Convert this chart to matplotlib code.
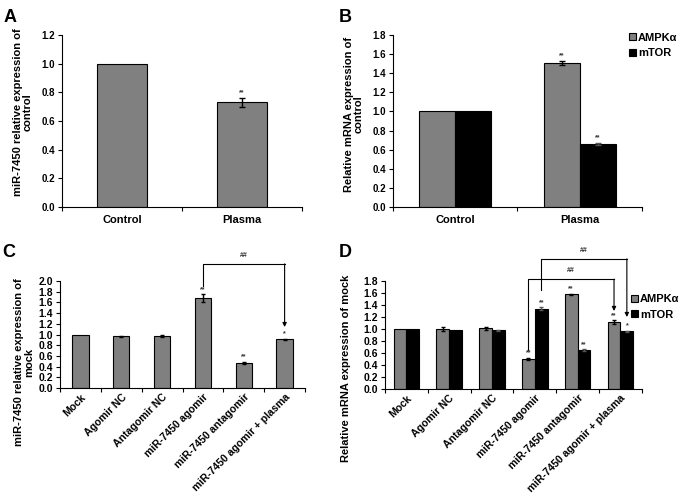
import matplotlib
matplotlib.use("Agg")
import matplotlib.pyplot as plt
import numpy as np

plt.rcParams['font.family'] = ['Liberation Sans', 'DejaVu Sans']
plt.rcParams['font.weight'] = 'bold'

GRAY = '#808080'

# Panel A
a_cats = ["Control", "Plasma"]
a_vals = [1.0, 0.73]
a_err = [0, 0.03]
a_sig = ["", "**"]

# Panel B
b_cats = ["Control", "Plasma"]
b_ampk = [1.0, 1.51]
b_ampk_err = [0, 0.02]
b_mtor = [1.0, 0.66]
b_mtor_err = [0, 0.01]
b_ampk_sig = ["", "**"]
b_mtor_sig = ["", "**"]

# Panel C
c_cats = ["Mock", "Agomir NC", "Antagomir NC", "miR-7450 agomir",
          "miR-7450 antagomir", "miR-7450 agomir + plasma"]
c_vals = [1.0, 0.97, 0.97, 1.68, 0.47, 0.91]
c_err = [0, 0.01, 0.015, 0.07, 0.02, 0.015]
c_sig = ["", "", "", "**", "**", "*"]

# Panel D
d_cats = c_cats
d_ampk = [1.0, 1.0, 1.01, 0.5, 1.58, 1.12]
d_ampk_err = [0, 0.04, 0.03, 0.02, 0.01, 0.03]
d_mtor = [1.0, 0.98, 0.98, 1.34, 0.65, 0.96]
d_mtor_err = [0, 0, 0.01, 0.02, 0.01, 0.01]
d_ampk_sig = ["", "", "", "**", "**", "**"]
d_mtor_sig = ["", "", "", "**", "**", "*"]


def style_axes(ax, n, cats, ymax, rot=False, tsize=7):
    ax.spines['top'].set_visible(False)
    ax.spines['right'].set_visible(False)
    ax.set_xlim(-0.5, n - 0.5)
    ax.set_ylim(0, ymax)
    ax.set_yticks(np.arange(0, ymax + 0.001, 0.2))
    ax.set_yticklabels(["%.1f" % v for v in np.arange(0, ymax + 0.001, 0.2)],
                       fontsize=tsize, fontweight='bold')
    ax.set_xticks(np.arange(-0.5, n, 1.0))
    ax.set_xticklabels([])
    ax.tick_params(axis='x', which='major', length=3, direction='out')
    ax.tick_params(axis='y', length=3, direction='out', pad=2)
    ax.set_xticks(np.arange(n), minor=True)
    if rot:
        ax.set_xticklabels(cats, minor=True, rotation=45, ha='right',
                           rotation_mode='anchor', fontsize=7.6, fontweight='bold')
        ax.tick_params(axis='x', which='minor', length=0, pad=3)
    else:
        ax.set_xticklabels(cats, minor=True, fontsize=8, fontweight='bold')
        ax.tick_params(axis='x', which='minor', length=0, pad=6)


def errs(ax, xs, vals, err, color, cap):
    xs = np.asarray(xs, dtype=float)
    vals = np.asarray(vals)
    err = np.asarray(err)
    m = err > 0
    ax.errorbar(xs[m], vals[m], yerr=err[m], fmt='none', ecolor=color,
                elinewidth=1, capsize=cap)


def stars(ax, xs, tops, sig, dy):
    for x, t, s in zip(xs, tops, sig):
        if s:
            ax.text(x, t + dy, s, ha='center', va='bottom', fontsize=5, color='#333333')


def bracket(ax, x1, x2, y_left, y_top, y_right):
    ax.plot([x1, x1, x2], [y_left, y_top, y_top], color='black', lw=0.8, clip_on=False)
    ax.annotate('', xy=(x2, y_right), xytext=(x2, y_top),
                arrowprops=dict(arrowstyle='-|>', color='black', lw=0.8,
                                mutation_scale=6, shrinkA=0, shrinkB=0),
                annotation_clip=False)


fig = plt.figure(figsize=(6.85, 4.96), dpi=100)

# ---- A ----
ax = fig.add_axes([0.0905, 0.5827, 0.3505, 0.3467])
x = np.arange(len(a_cats))
ax.bar(x, a_vals, width=0.41, color=GRAY, edgecolor='black', linewidth=0.8)
errs(ax, x, a_vals, a_err, 'black', 2)
style_axes(ax, 2, a_cats, 1.2)
stars(ax, x, np.array(a_vals) + np.array(a_err), a_sig, 0.01)
ax.set_ylabel("miR-7450 relative expression of\ncontrol", fontsize=8,
              fontweight='bold', linespacing=1.0, labelpad=6)
ax.yaxis.label.set_y(0.55)
fig.text(0.005, 0.965, "A", fontsize=13, fontweight='bold', va='center')

# ---- B ----
ax = fig.add_axes([0.5737, 0.5827, 0.3633, 0.3467])
x = np.arange(len(b_cats))
w = 0.29
ax.bar(x - w / 2, b_ampk, width=w, color=GRAY, edgecolor='black', linewidth=0.8, label='AMPKα')
ax.bar(x + w / 2, b_mtor, width=w, color='black', edgecolor='black', linewidth=0.8, label='mTOR')
errs(ax, x - w / 2, b_ampk, b_ampk_err, 'black', 2)
errs(ax, x + w / 2, b_mtor, b_mtor_err, '#555555', 2)
style_axes(ax, 2, b_cats, 1.8)
stars(ax, x - w / 2, np.array(b_ampk) + np.array(b_ampk_err), b_ampk_sig, 0.02)
stars(ax, x + w / 2, np.array(b_mtor) + np.array(b_mtor_err), b_mtor_sig, 0.02)
ax.set_ylabel("Relative mRNA expression of\ncontrol", fontsize=8,
              fontweight='bold', linespacing=1.0, labelpad=6)
ax.yaxis.label.set_y(0.54)
ax.legend(loc='upper left', bbox_to_anchor=(0.93, 1.04), frameon=False,
          prop={'size': 8, 'weight': 'bold'}, handlelength=0.6, handleheight=0.6,
          handletextpad=0.2, labelspacing=0.5, borderaxespad=0)
fig.text(0.494, 0.965, "B", fontsize=13, fontweight='bold', va='center')

# ---- C ----
ax = fig.add_axes([0.0876, 0.2177, 0.3577, 0.2158])
x = np.arange(len(c_cats))
ax.bar(x, c_vals, width=0.4, color=GRAY, edgecolor='black', linewidth=0.8)
errs(ax, x, c_vals, c_err, 'black', 1.5)
style_axes(ax, len(c_cats), c_cats, 2.0, rot=True, tsize=7.5)
stars(ax, x, np.array(c_vals) + np.array(c_err), c_sig, 0.03)
ax.set_ylabel("miR-7450 relative expression of\nmock", fontsize=8,
              fontweight='bold', linespacing=1.0, labelpad=3)
ax.yaxis.label.set_y(0.24)
bracket(ax, 3, 5, 1.91, 2.32, 1.14)
ax.text(4, 2.42, "##", ha='center', va='bottom', fontsize=5, color='#333333')
fig.text(0.003, 0.49, "C", fontsize=13, fontweight='bold', va='center')

# ---- D ----
ax = fig.add_axes([0.562, 0.2157, 0.375, 0.2178])
x = np.arange(len(d_cats))
w = 0.3
ax.bar(x - w / 2, d_ampk, width=w, color=GRAY, edgecolor='black', linewidth=0.8, label='AMPKα')
ax.bar(x + w / 2, d_mtor, width=w, color='black', edgecolor='black', linewidth=0.8, label='mTOR')
errs(ax, x - w / 2, d_ampk, d_ampk_err, 'black', 1.5)
errs(ax, x + w / 2, d_mtor, d_mtor_err, '#555555', 1.5)
style_axes(ax, len(d_cats), d_cats, 1.8, rot=True, tsize=7.5)
stars(ax, x - w / 2, np.array(d_ampk) + np.array(d_ampk_err), d_ampk_sig, 0.02)
stars(ax, x + w / 2, np.array(d_mtor) + np.array(d_mtor_err), d_mtor_sig, 0.02)
ax.set_ylabel("Relative mRNA expression of mock", fontsize=8,
              fontweight='bold', labelpad=9)
ax.yaxis.label.set_y(0.19)
# outer bracket (mTOR)
bracket(ax, 3 + w / 2, 5 + w / 2, 1.65, 2.17, 1.2)
ax.text(4.15, 2.25, "##", ha='center', va='bottom', fontsize=5, color='#333333')
# inner bracket (AMPK)
bracket(ax, 3 - w / 2, 5 - w / 2, 0.65, 1.83, 1.3)
ax.text(3.85, 1.91, "##", ha='center', va='bottom', fontsize=5, color='#333333')
ax.legend(loc='upper left', bbox_to_anchor=(0.94, 0.92), frameon=False,
          prop={'size': 8, 'weight': 'bold'}, handlelength=0.6, handleheight=0.6,
          handletextpad=0.2, labelspacing=0.5, borderaxespad=0)
fig.text(0.494, 0.49, "D", fontsize=13, fontweight='bold', va='center')

fig.savefig("out.png", dpi=100)
